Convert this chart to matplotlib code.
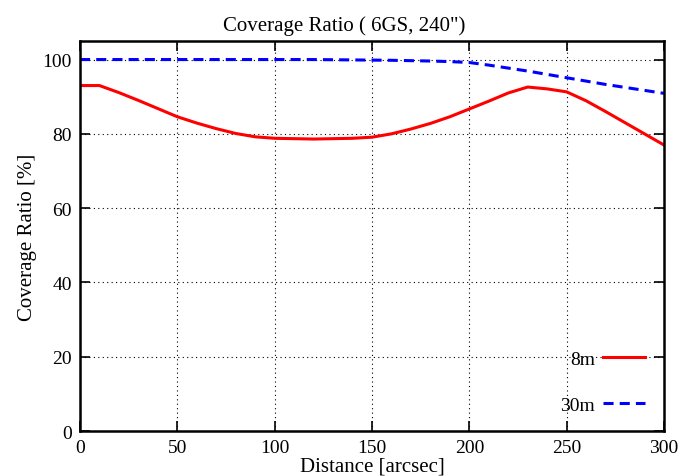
import matplotlib
matplotlib.use("Agg")
import matplotlib.pyplot as plt
import numpy as np

plt.rcParams['font.family'] = ['Liberation Serif', 'DejaVu Serif']
plt.rcParams['mathtext.fontset'] = 'stix'

# coverage ratio vs. distance, every 10 arcsec
distance = np.arange(0, 310, 10)
cov_8m = [93.0, 93.0, 91.1, 89.0, 86.8, 84.6, 82.9, 81.4, 80.1, 79.2,
          78.8, 78.7, 78.6, 78.7, 78.8, 79.1, 80.0, 81.3, 82.8, 84.6,
          86.7, 88.8, 91.0, 92.6, 92.1, 91.3, 88.9, 86.0, 83.0, 80.0, 77.0]
cov_30m = [100.0, 100.0, 100.0, 100.0, 100.0, 100.0, 100.0, 100.0, 100.0, 100.0,
           100.0, 100.0, 100.0, 99.95, 99.9, 99.85, 99.8, 99.7, 99.6, 99.45,
           99.2, 98.5, 97.7, 96.9, 96.0, 95.1, 94.2, 93.3, 92.5, 91.7, 90.9]

fig = plt.figure(figsize=(6.81, 4.77), dpi=100)
ax = fig.add_axes([0.1175, 0.0943, 0.8575, 0.8177])

ax.plot(distance, cov_8m, color='red', lw=2.2, label='8m')
ax.plot(distance, cov_30m, color='blue', lw=2.2, ls=(0, (3.3, 2.0)), label='30m')

ax.set_xlim(0, 300)
ax.set_ylim(0, 105)
ax.set_xticks(np.arange(0, 301, 50))
ax.set_yticks(np.arange(0, 101, 20))
ax.grid(True, color='black', ls=(0, (1, 3)), lw=0.8)
ax.tick_params(direction='in', top=True, right=True, length=7, width=1.2,
               labelsize=14, pad=6)
for s in ax.spines.values():
    s.set_linewidth(1.8)

# title sits over the middle of the whole figure, not the axes
ax.set_title('Coverage Ratio ( 6GS, 240")', fontsize=15, pad=8, x=0.452)
ax.set_xlabel('Distance [arcsec]', fontsize=15, labelpad=0)
ax.set_ylabel('Coverage Ratio [%]', fontsize=15, labelpad=4)

ax.legend(loc='lower right', frameon=False, markerfirst=False, fontsize=14,
          handlelength=2.2, labelspacing=1.5, handletextpad=0.4,
          borderaxespad=0.4, bbox_to_anchor=(0.995, 0.003))

fig.savefig('out.png', dpi=100)
